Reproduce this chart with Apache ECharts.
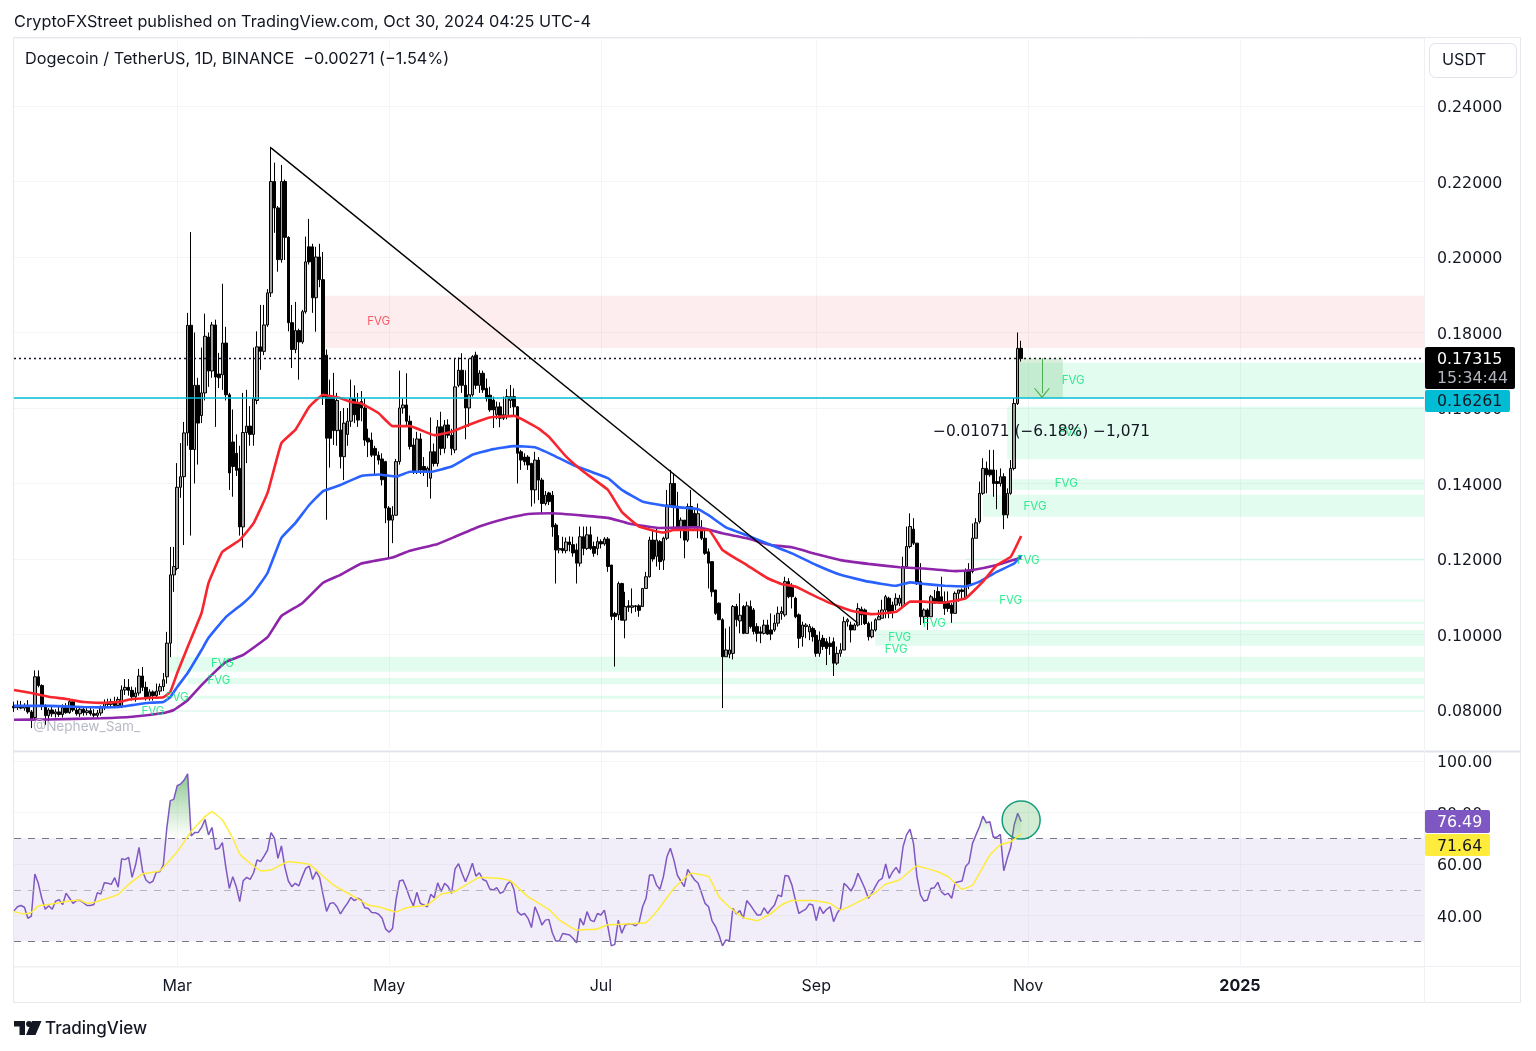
<!DOCTYPE html>
<html>
<head>
<meta charset="utf-8">
<title>Dogecoin / TetherUS</title>
<style>
  html, body { margin: 0; padding: 0; background: #fff; }
  #main { width: 1536px; height: 1051px; }
</style>
<script src="https://cdn.jsdelivr.net/npm/echarts@6/dist/echarts.min.js"></script>
</head>
<body>
<div id="main"></div>
<script>
// Daily candles, Jan 14 2024 to Oct 30 2024
const opens = [
  .0810,.0806,.0812,.0805,.0811,.0795,.0780,.0888,.0865,.0812, .0785,.0800,.0790,.0795,.0788,.0806,.0793,.0822,.0800,.0790,
  .0802,.0793,.0798,.0790,.0786,.0792,.0808,.0820,.0815,.0822, .0812,.0808,.0853,.0860,.0852,.0835,.0845,.0890,.0860,.0835,
  .0848,.0838,.0850,.0862,.0888,.0977,.1158,.1175,.1390,.1418, .1534,.1819,.1490,.1660,.1580,.1640,.1788,.1698,.1820,.1690,
  .1688,.1772,.1635,.1510,.1480,.1440,.1285,.1535,.1552,.1530, .1620,.1762,.1750,.1820,.1905,.2200,.2130,.1993,.2200,.2052,
  .1826,.1755,.1805,.1775,.1855,.2027,.2027,.1892,.2000,.1940, .1740,.1630,.1630,.1540,.1542,.1471,.1530,.1565,.1625,.1612,
  .1617,.1600,.1520,.1515,.1493,.1475,.1465,.1458,.1335,.1303, .1316,.1458,.1600,.1608,.1565,.1502,.1431,.1518,.1445,.1430,
  .1414,.1484,.1453,.1550,.1493,.1555,.1528,.1489,.1660,.1700, .1660,.1600,.1635,.1740,.1660,.1692,.1652,.1634,.1621,.1583,
  .1603,.1582,.1577,.1620,.1630,.1603,.1484,.1470,.1470,.1453, .1383,.1462,.1409,.1347,.1375,.1369,.1290,.1224,.1228,.1222,
  .1245,.1238,.1224,.1189,.1259,.1228,.1264,.1233,.1228,.1246, .1240,.1253,.1184,.1056,.1052,.1135,.1038,.1076,.1072,.1076,
  .1076,.1074,.1122,.1153,.1250,.1207,.1246,.1197,.1255,.1343, .1400,.1339,.1281,.1303,.1250,.1339,.1321,.1286,.1281,.1255,
  .1219,.1193,.1118,.1083,.1039,.0941,.0948,.0950,.1074,.1036, .1074,.1003,.1074,.1065,.1021,.1007,.1003,.1025,.1012,.1012,
  .1030,.1056,.1052,.1140,.1127,.1096,.1052,.0994,.1021,.1007, .1016,.0998,.0950,.0990,.0981,.0977,.0981,.0924,.0950,.0959,
  .1034,.1025,.1012,.1025,.1067,.1065,.1029,.0994,.1012,.1039, .1043,.1065,.1096,.1078,.1078,.1083,.1074,.1180,.1233,.1279,
  .1242,.1140,.1047,.1065,.1047,.1096,.1114,.1100,.1087,.1083, .1078,.1056,.1109,.1118,.1096,.1171,.1167,.1255,.1299,.1374,
  .1440,.1436,.1436,.1405,.1400,.1418,.1317,.1374,.1440,.1612,.1758
];
const closes = [
  .0806,.0812,.0805,.0811,.0795,.0772,.0888,.0865,.0812,.0785, .0800,.0790,.0795,.0788,.0806,.0793,.0822,.0800,.0790,.0802,
  .0793,.0798,.0790,.0786,.0792,.0808,.0820,.0815,.0822,.0812, .0828,.0853,.0860,.0852,.0835,.0845,.0890,.0860,.0835,.0848,
  .0838,.0850,.0862,.0880,.0977,.1158,.1180,.1390,.1418,.1534, .1819,.1490,.1660,.1560,.1640,.1790,.1698,.1820,.1682,.1680,
  .1772,.1635,.1428,.1445,.1435,.1285,.1535,.1552,.1530,.1625, .1762,.1750,.1820,.1905,.2200,.2130,.1993,.2200,.2052,.1826,
  .1755,.1805,.1775,.1855,.1987,.1987,.1892,.2000,.1940,.1630, .1520,.1520,.1540,.1620,.1471,.1560,.1565,.1625,.1582,.1568,
  .1600,.1515,.1510,.1475,.1475,.1462,.1410,.1335,.1303,.1316, .1458,.1600,.1608,.1565,.1498,.1431,.1518,.1436,.1435,.1440,
  .1484,.1453,.1550,.1493,.1555,.1528,.1493,.1656,.1700,.1660, .1600,.1635,.1736,.1660,.1692,.1648,.1625,.1595,.1595,.1603,
  .1573,.1573,.1630,.1630,.1603,.1480,.1462,.1458,.1449,.1383, .1462,.1409,.1347,.1369,.1352,.1285,.1224,.1228,.1222,.1245,
  .1238,.1216,.1189,.1259,.1228,.1264,.1228,.1215,.1246,.1240, .1253,.1180,.1048,.1048,.1135,.1038,.1074,.1072,.1076,.1074,
  .1064,.1122,.1153,.1250,.1200,.1250,.1193,.1255,.1343,.1400, .1339,.1281,.1303,.1250,.1339,.1286,.1286,.1320,.1255,.1215,
  .1189,.1113,.1056,.1039,.0941,.0959,.0959,.1074,.1039,.1051, .1003,.1076,.1021,.1008,.1003,.1003,.1025,.1001,.1001,.1030,
  .1056,.1061,.1140,.1100,.1100,.1047,.0990,.1025,.1025,.1021, .0994,.0950,.0985,.0968,.0963,.0968,.0924,.0950,.0959,.1034,
  .1039,.1012,.1025,.1069,.1052,.1029,.0994,.1012,.1039,.1047, .1065,.1100,.1056,.1060,.1096,.1096,.1180,.1233,.1286,.1242,
  .1136,.1047,.1065,.1047,.1100,.1083,.1087,.1087,.1069,.1069, .1056,.1109,.1118,.1114,.1167,.1130,.1255,.1296,.1374,.1440,
  .1423,.1423,.1400,.1400,.1418,.1317,.1374,.1440,.1612,.1758,.1731
];
const highs = [
  .0822,.0825,.0824,.0818,.0826,.0800,.0905,.0905,.0868,.0815, .0805,.0812,.0802,.0808,.0815,.0818,.0830,.0828,.0810,.0808,
  .0808,.0805,.0806,.0802,.0800,.0812,.0828,.0830,.0830,.0835, .0835,.0865,.0882,.0882,.0862,.0860,.0909,.0914,.0875,.0855,
  .0852,.0870,.0870,.0898,.1007,.1232,.1232,.1454,.1507,.1563, .1852,.2066,.1800,.1680,.1760,.1850,.1800,.1828,.1834,.1746,
  .1929,.1815,.1640,.1596,.1530,.1500,.1640,.1648,.1605,.1760, .1803,.1873,.1873,.1915,.2292,.2250,.2135,.2244,.2205,.2055,
  .1873,.1881,.1810,.1860,.2054,.2101,.2035,.2027,.2035,.2013, .1755,.1675,.1693,.1640,.1592,.1600,.1600,.1675,.1660,.1640,
  .1645,.1625,.1545,.1535,.1500,.1485,.1480,.1460,.1340,.1340, .1465,.1699,.1625,.1692,.1580,.1520,.1537,.1533,.1470,.1445,
  .1575,.1506,.1568,.1590,.1568,.1570,.1545,.1732,.1734,.1745, .1700,.1731,.1740,.1749,.1700,.1699,.1678,.1656,.1630,.1617,
  .1615,.1630,.1650,.1661,.1652,.1605,.1489,.1480,.1475,.1455, .1484,.1470,.1415,.1380,.1378,.1380,.1295,.1263,.1259,.1257,
  .1260,.1259,.1241,.1286,.1286,.1286,.1286,.1246,.1259,.1252, .1258,.1258,.1184,.1060,.1140,.1137,.1113,.1091,.1122,.1078,
  .1080,.1122,.1166,.1259,.1277,.1280,.1250,.1259,.1383,.1436, .1427,.1378,.1310,.1303,.1347,.1383,.1330,.1347,.1303,.1277,
  .1228,.1193,.1118,.1085,.1043,.1016,.1021,.1078,.1081,.1109, .1078,.1087,.1090,.1070,.1030,.1021,.1039,.1039,.1056,.1052,
  .1074,.1074,.1153,.1149,.1136,.1100,.1056,.1034,.1030,.1028, .1021,.1012,.1008,.0999,.0990,.0994,.0992,.0968,.0977,.1047,
  .1043,.1034,.1030,.1083,.1074,.1069,.1034,.1034,.1043,.1065, .1092,.1105,.1100,.1087,.1109,.1105,.1206,.1286,.1321,.1308,
  .1242,.1189,.1069,.1069,.1105,.1118,.1127,.1153,.1114,.1114, .1083,.1114,.1118,.1122,.1175,.1189,.1294,.1308,.1405,.1467,
  .1458,.1489,.1489,.1436,.1440,.1427,.1387,.1462,.1626,.1800,.1778
];
const lows = [
  .0795,.0800,.0802,.0798,.0790,.0752,.0775,.0860,.0800,.0760, .0770,.0782,.0780,.0782,.0780,.0790,.0790,.0795,.0785,.0782,
  .0785,.0786,.0785,.0780,.0778,.0785,.0800,.0808,.0805,.0810, .0805,.0805,.0840,.0838,.0825,.0822,.0838,.0850,.0825,.0825,
  .0825,.0830,.0840,.0850,.0870,.0940,.1113,.1170,.1362,.1237, .1500,.1262,.1400,.1450,.1560,.1620,.1656,.1680,.1550,.1653,
  .1648,.1620,.1383,.1365,.1420,.1262,.1230,.1454,.1500,.1500, .1610,.1701,.1740,.1815,.1894,.2064,.1961,.1985,.1992,.1803,
  .1706,.1745,.1675,.1770,.1850,.1980,.1852,.1802,.1920,.1608, .1304,.1442,.1502,.1500,.1440,.1409,.1500,.1550,.1560,.1550,
  .1565,.1500,.1470,.1470,.1425,.1450,.1395,.1295,.1202,.1242, .1315,.1450,.1585,.1555,.1490,.1425,.1425,.1425,.1420,.1391,
  .1360,.1445,.1445,.1475,.1480,.1520,.1475,.1480,.1655,.1640, .1517,.1550,.1630,.1650,.1640,.1640,.1617,.1590,.1547,.1570,
  .1549,.1568,.1570,.1600,.1577,.1400,.1436,.1448,.1436,.1339, .1347,.1356,.1321,.1342,.1343,.1259,.1135,.1215,.1215,.1215,
  .1220,.1206,.1135,.1180,.1210,.1224,.1224,.1206,.1210,.1228, .1235,.1166,.1038,.0915,.1038,.1038,.0990,.1060,.1056,.1060,
  .1047,.1074,.1122,.1151,.1193,.1180,.1171,.1171,.1250,.1338, .1277,.1277,.1255,.1202,.1245,.1281,.1277,.1255,.1250,.1211,
  .1122,.1100,.1052,.1039,.0805,.0941,.0937,.0934,.1021,.1003, .1001,.1003,.1016,.1000,.0981,.0977,.1000,.0999,.0985,.1007,
  .1021,.1039,.1047,.1096,.1069,.1043,.0964,.0968,.0990,.0985, .0981,.0941,.0941,.0959,.0919,.0946,.0890,.0919,.0941,.0959,
  .1021,.0979,.1012,.1021,.1025,.1025,.0984,.0990,.1008,.1039, .1043,.1043,.1043,.1043,.1065,.1075,.1074,.1180,.1228,.1237,
  .1131,.1025,.1030,.1012,.1047,.1083,.1083,.1083,.1052,.1060, .1031,.1056,.1087,.1091,.1096,.1120,.1162,.1255,.1294,.1370,
  .1374,.1418,.1365,.1332,.1392,.1279,.1308,.1370,.1435,.1608,.1723
];

// moving averages, read at the day indexes listed with them
const redDays = [0,5,10,15,20,25,30,34,39,43,45,47,50,54,56,60,65,69,73,77,81,85,89,94,97,100,105,109,114,121,126,132,137,144,151,154,159,164,171,175,180,187,190,200,204,211,217,221,225,229,235,241,247,254,258,262,267,274,279,283,287,290];
const redValues = [.0853,.0845,.0835,.0829,.0821,.0819,.0821,.0829,.0832,.0834,.0848,.0898,.0967,.1057,.1136,.1219,.1250,.1295,.1375,.1507,.1542,.1603,.1635,.1626,.1616,.1612,.1586,.1552,.1552,.1528,.1537,.1559,.1575,.1579,.1546,.1524,.1471,.1431,.1383,.1325,.1286,.1270,.1277,.1277,.1224,.1184,.1149,.1134,.1127,.1109,.1083,.1063,.1054,.1060,.1087,.1087,.1084,.1096,.1140,.1184,.1206,.1261];
const blueDays = [0,10,20,25,30,34,39,43,45,47,50,54,56,61,66,69,73,77,81,85,89,94,100,105,110,114,120,126,132,138,144,150,155,161,171,175,181,188,197,200,205,211,218,224,231,238,246,254,258,262,268,274,278,283,288,290];
const blueValues = [.0811,.0811,.0808,.0807,.0808,.0813,.0819,.0821,.0834,.0861,.0898,.0959,.0991,.1046,.1083,.1110,.1163,.1256,.1295,.1343,.1380,.1396,.1420,.1424,.1418,.1431,.1431,.1445,.1476,.1491,.1499,.1496,.1476,.1449,.1414,.1383,.1352,.1340,.1332,.1316,.1284,.1263,.1237,.1215,.1184,.1158,.1140,.1129,.1138,.1134,.1129,.1127,.1140,.1166,.1188,.1210];
const purpleDays = [0,10,25,34,43,46,50,54,61,66,73,77,83,89,94,100,109,114,122,127,134,142,148,155,164,171,177,186,197,204,211,218,224,231,238,246,255,262,271,276,283,290];
const purpleValues = [.0774,.0775,.0778,.0782,.0792,.0800,.0826,.0866,.0927,.0946,.0993,.1049,.1083,.1137,.1158,.1188,.1204,.1222,.1240,.1259,.1286,.1308,.1319,.1321,.1315,.1309,.1294,.1282,.1284,.1268,.1255,.1237,.1231,.1213,.1197,.1187,.1178,.1175,.1168,.1171,.1184,.1204];

// RSI, one value per candle
const rsiValues = [
  41.8,43.4,43.9,43.2,38.9,39.8,56.1,52.5,46.7,42.4, 43.8,42.4,45.6,46.1,44.2,48.7,46.7,44.7,45.8,45.9,
  45.0,43.9,43.9,44.3,48.9,48.3,52.7,52.5,52.1,54.7, 51.0,62.0,61.7,62.6,54.8,59.6,66.5,57.4,53.8,52.6,
  53.3,56.9,57.0,59.6,73.9,84.6,85.1,90.4,91.1,92.6, 95.0,70.9,72.2,72.2,74.2,77.3,71.3,74.2,65.7,66.1,
  68.3,58.7,50.5,55.1,51.2,45.4,53.5,54.8,54.0,56.6, 61.6,60.9,63.1,65.4,72.2,70.0,62.2,67.0,58.7,53.4,
  51.2,52.5,51.5,55.1,58.3,59.2,54.0,57.0,54.8,48.0, 41.6,44.7,45.0,43.4,40.6,42.8,44.7,47.0,45.8,46.7,
  46.0,43.0,42.7,41.2,41.1,40.5,38.9,34.8,33.5,35.0, 46.0,53.4,53.8,50.5,46.7,43.7,49.0,44.7,44.1,43.4,
  48.2,46.9,52.7,49.3,52.5,51.2,48.6,58.1,60.1,56.4, 53.1,56.4,60.3,55.3,56.6,54.0,53.4,50.3,49.9,50.8,
  48.6,49.3,52.2,53.4,49.9,41.5,40.2,40.8,38.9,35.3, 43.4,40.2,36.3,38.2,38.5,33.3,30.1,30.1,33.0,32.7,
  32.4,31.1,29.4,38.9,36.3,41.5,38.2,37.6,40.8,40.2, 42.1,35.7,28.2,28.8,38.2,33.1,36.3,36.7,36.7,36.0,
  37.3,43.4,46.7,55.7,55.7,51.8,50.2,55.1,62.8,66.1, 61.6,55.7,53.4,51.2,57.9,55.7,53.8,52.5,48.6,44.7,
  43.4,37.9,35.7,32.4,28.2,30.5,30.2,42.8,40.6,41.9, 38.9,45.8,44.1,42.1,40.2,40.2,43.0,40.8,42.5,44.1,
  48.0,47.3,55.5,55.3,51.8,46.0,40.8,41.7,42.5,44.5, 44.1,38.0,43.4,40.8,42.4,43.4,37.6,40.8,42.8,52.5,
  51.2,49.5,52.1,56.4,53.5,50.5,46.7,48.6,51.2,53.5, 54.4,60.0,54.4,57.0,58.7,56.4,66.7,71.3,73.5,68.0,
  55.1,48.0,45.6,46.0,50.5,50.8,52.9,49.3,48.0,48.6, 46.7,52.7,53.1,53.4,59.0,60.5,68.0,71.3,74.5,78.6,
  76.0,76.4,70.4,70.4,71.5,57.4,62.2,66.5,75.2,79.7,76.49
];
const rsiMaDays = [0,3,5,7,10,15,19,21,23,30,33,37,42,47,51,55,57,60,63,65,68,71,74,79,85,87,92,97,102,105,110,113,119,123,127,134,140,143,148,154,157,162,168,171,176,182,185,190,195,200,203,206,210,214,218,221,224,230,235,238,242,248,251,255,260,266,269,273,276,281,284,287,290];
const rsiMaValues = [41.5,40.6,41.2,43.7,44.3,45.4,46.0,44.7,45.1,48.2,52.1,56.1,57.3,64.8,72.6,78.4,80.3,77.1,70.0,63.9,60.3,57.4,57.7,60.9,59.9,57.7,51.8,48.0,44.1,43.4,41.4,43.0,44.1,48.3,49.3,54.8,54.4,53.4,47.3,42.4,38.3,34.4,34.8,36.4,36.7,37.3,41.5,50.5,56.4,55.1,47.3,43.2,39.2,38.0,40.8,44.1,45.8,45.8,44.7,42.1,44.5,48.9,52.2,53.8,59.2,57.0,55.1,50.2,51.8,63.5,67.4,68.7,71.64];

// axis ticks
const tickDates = ['2024-03-01','2024-05-01','2024-07-01','2024-09-01','2024-11-01','2025-01-01'];
const tickLabels = ['Mar','May','Jul','Sep','Nov','2025'];

// fair value gaps: first day, top price, bottom price
const fvgRedStart = 89, fvgRedTop = .1897, fvgRedBottom = .1759;
const fvgStarts  = [289,  286,  286,  279,  274,  272,  262,  248,  44,   50,   45,   42];
const fvgTops    = [.1720,.1603,.1411,.1370,.1201,.1093,.1034,.1012,.0941,.0885,.0838,.0798];
const fvgBottoms = [.1629,.1464,.1383,.1312,.1196,.1087,.1028,.0970,.0901,.0868,.0830,.0795];
// FVG text labels
const fvgLabelDays   = [60,59,47,40,255,254,265,287,292,294,303,304,305];
const fvgLabelPrices = [.0922,.0877,.0834,.0795,.0993,.0959,.1030,.1091,.1197,.1340,.1399,.1536,.1674];
const fvgRedLabelDay = 105, fvgRedLabelPrice = .1828;

const lastPrice = .17315, linePrice = .16261;
const trendDays = [74,243], trendPrices = [.2289,.1030];
const measureDays = [289,302], measureArrowDay = 296, measureArrowEnd = .1639;

const firstDay = Date.UTC(2024, 0, 14);
const lastIndex = 406;
const days = [];
for (let i = 0; i <= lastIndex; i++) {
  days.push(new Date(firstDay + i * 86400000).toISOString().slice(0, 10));
}

const font = 'Inter';
const numFont = '"DejaVu Sans"';
const ink = '#131722';
const gridColor = '#f5f5f7';
const frameColor = '#e6e8ee';

const pairs = (xs, ys) => xs.map((x, i) => [x, ys[i]]);
const isTick = (index, value) => tickDates.includes(value);

const chart = echarts.init(document.getElementById('main'), null, { renderer: 'canvas' });

const maSeries = (name, xs, ys, color) => ({
  name, type: 'line', data: pairs(xs, ys), xAxisIndex: 0, yAxisIndex: 0, z: 4,
  showSymbol: false, symbol: 'none', smooth: 0.1,
  lineStyle: { color, width: 2.6 }
});

const label = (text, x, y, opts) => ({
  type: 'text', x, y, z: 200, silent: true,
  style: Object.assign({ text, font: '16.3px ' + font, fill: ink, textVerticalAlign: 'middle' }, opts || {})
});
const numLabel = (text, x, y, fill, size) => label(text, x, y, { font: (size || 15.8) + 'px ' + numFont, fill: fill || ink });
const rect = (x, y, w, h, fill, r) => ({
  type: 'rect', z: 190, silent: true, shape: { x, y, width: w, height: h, r: r || 0 }, style: { fill }
});
const rule = (x1, y1, x2, y2, color, w) => ({
  type: 'line', z: 0, silent: true, shape: { x1, y1, x2, y2 }, style: { stroke: color, lineWidth: w || 1 }
});
// rich style nudges the y axis numbers down onto their grid lines
const axisNumber = { n: { fontSize: 15.8, fontFamily: numFont, color: ink, padding: [4, 0, 0, 0] } };

const option = {
  animation: false,
  backgroundColor: '#ffffff',
  textStyle: { fontFamily: font },
  grid: [
    { left: 14, width: 1410, top: 38, height: 709.75 },
    { left: 14, width: 1410, top: 752, height: 215 }
  ],
  xAxis: [0, 1].map(g => ({
    type: 'category', gridIndex: g, data: days, boundaryGap: false,
    axisLine: { show: false }, axisTick: { show: false },
    splitLine: { show: true, interval: isTick, lineStyle: { color: gridColor, width: 1 } },
    axisLabel: {
      show: g === 1, interval: isTick, margin: 11, color: ink, fontSize: 16, fontFamily: font,
      formatter: v => {
        const t = tickLabels[tickDates.indexOf(v)];
        return t === '2025' ? '{year|2025}' : t;
      },
      rich: { year: { fontWeight: 'bold', fontSize: 16, fontFamily: font, color: ink, letterSpacing: 1 } }
    }
  })),
  yAxis: [
    {
      type: 'value', gridIndex: 0, position: 'right', min: .07, max: .25801, interval: .01,
      axisLine: { show: false }, axisTick: { show: false },
      splitLine: { show: true, lineStyle: { color: ['transparent', gridColor] } },
      axisLabel: {
        margin: 13, rich: axisNumber,
        formatter: v => Math.abs(v * 50 - Math.round(v * 50)) < 1e-6 ? '{n|' + v.toFixed(5) + '}' : ''
      }
    },
    {
      type: 'value', gridIndex: 1, position: 'right', min: 20, max: 103.5, interval: 20,
      axisLine: { show: false }, axisTick: { show: false },
      splitLine: { show: true, lineStyle: { color: gridColor } },
      axisLabel: {
        margin: 13, rich: axisNumber,
        formatter: v => (v === 20 || v % 20 !== 0) ? '' : '{n|' + v.toFixed(2) + '}'
      }
    }
  ],
  series: [
    // zones and the two price lines sit under the candles
    {
      type: 'line', data: [], xAxisIndex: 0, yAxisIndex: 0, z: 1, silent: true,
      markArea: {
        silent: true,
        itemStyle: { color: 'rgba(0,230,118,0.11)' },
        data: fvgStarts.map((s, i) => [{ coord: [s, fvgTops[i]] }, { coord: [lastIndex, fvgBottoms[i]] }])
          .concat([[
            { coord: [fvgRedStart, fvgRedTop], itemStyle: { color: 'rgba(242,54,69,0.09)' } },
            { coord: [lastIndex, fvgRedBottom] }
          ]])
      },
      markLine: {
        silent: true, symbol: 'none', label: { show: false }, precision: 5,
        data: [
          { yAxis: lastPrice, lineStyle: { color: ink, type: [2, 3], width: 1.4 } },
          { yAxis: linePrice, lineStyle: { color: '#00bcd4', type: 'solid', width: 1.5 } }
        ]
      }
    },
    {
      name: 'DOGEUSDT', type: 'candlestick', xAxisIndex: 0, yAxisIndex: 0, z: 3,
      barWidth: 3,
      itemStyle: { color: '#a0a0a0', color0: '#000000', borderColor: '#000000', borderColor0: '#000000', borderWidth: 1 },
      data: opens.map((o, i) => [o, closes[i], lows[i], highs[i]])
    },
    maSeries('EMA 200', purpleDays, purpleValues, '#8e24aa'),
    maSeries('EMA 100', blueDays, blueValues, '#2962ff'),
    maSeries('EMA 50', redDays, redValues, '#f7252d'),
    {
      name: 'Trend', type: 'line', xAxisIndex: 0, yAxisIndex: 0, z: 5, symbol: 'none',
      data: pairs(trendDays, trendPrices), lineStyle: { color: '#000000', width: 1.4 }
    },
    // measure box with its arrow
    {
      type: 'line', data: [], xAxisIndex: 0, yAxisIndex: 0, z: 5, silent: true,
      markArea: {
        silent: true, itemStyle: { color: 'rgba(76,175,80,0.2)' },
        data: [[{ coord: [measureDays[0], lastPrice] }, { coord: [measureDays[1], linePrice] }]]
      },
      markLine: {
        silent: true, label: { show: false }, precision: 5,
        symbol: ['none', 'path://M0 10L5 0L10 10L9.2 10L5 2L0.8 10Z'], symbolSize: [16, 10],
        lineStyle: { color: '#4caf50', type: 'solid', width: 1 },
        data: [[{ coord: [measureArrowDay, lastPrice] }, { coord: [measureArrowDay, measureArrowEnd] }]]
      }
    },
    {
      type: 'scatter', xAxisIndex: 0, yAxisIndex: 0, z: 6, symbolSize: 1, silent: true,
      itemStyle: { color: 'transparent' },
      data: pairs(fvgLabelDays, fvgLabelPrices),
      label: { show: true, position: 'inside', formatter: 'FVG', color: '#00e676', fontSize: 11.5, fontFamily: font }
    },
    {
      type: 'scatter', xAxisIndex: 0, yAxisIndex: 0, z: 6, symbolSize: 1, silent: true,
      itemStyle: { color: 'transparent' },
      data: [[fvgRedLabelDay, fvgRedLabelPrice]],
      label: { show: true, position: 'inside', formatter: 'FVG', color: '#f23645', fontSize: 11.5, fontFamily: font }
    },
    // RSI pane
    {
      type: 'line', data: [], xAxisIndex: 1, yAxisIndex: 1, z: 1, silent: true,
      markArea: {
        silent: true, itemStyle: { color: 'rgba(126,87,194,0.1)' },
        data: [[{ coord: [0, 70] }, { coord: [lastIndex, 30] }]]
      },
      markLine: {
        silent: true, symbol: 'none', label: { show: false },
        data: [
          { yAxis: 70, lineStyle: { color: '#787b86', type: [7, 7], width: 1.2 } },
          { yAxis: 50, lineStyle: { color: '#b2b5be', type: [7, 7], width: 1.2 } },
          { yAxis: 30, lineStyle: { color: '#787b86', type: [7, 7], width: 1.2 } }
        ]
      }
    },
    {
      name: 'Overbought', type: 'line', xAxisIndex: 1, yAxisIndex: 1, z: 2, symbol: 'none', silent: true,
      data: rsiValues.map((v, i) => [i, v > 70 ? v : null]),
      lineStyle: { width: 0 },
      areaStyle: {
        origin: 70,
        color: new echarts.graphic.LinearGradient(0, 0, 0, 1, [
          { offset: 0, color: 'rgba(60,160,70,0.85)' },
          { offset: 1, color: 'rgba(76,175,80,0)' }
        ])
      }
    },
    {
      name: 'RSI', type: 'line', xAxisIndex: 1, yAxisIndex: 1, z: 4, symbol: 'none',
      data: rsiValues.map((v, i) => [i, v]), lineStyle: { color: '#7e57c2', width: 1.5 },
      markPoint: {
        silent: true, symbol: 'circle', symbolSize: 38, label: { show: false },
        itemStyle: { color: 'rgba(76,175,80,0.25)', borderColor: '#149c7a', borderWidth: 1.5 },
        data: [{ coord: [290, 77.1] }]
      }
    },
    {
      name: 'RSI MA', type: 'line', xAxisIndex: 1, yAxisIndex: 1, z: 5, symbol: 'none', smooth: 0.1,
      data: pairs(rsiMaDays, rsiMaValues), lineStyle: { color: '#ffeb3b', width: 1.5 }
    }
  ],
  graphic: [
    // panel frame
    { type: 'rect', z: 0, silent: true, shape: { x: 13.5, y: 37.5, width: 1507, height: 965 }, style: { fill: 'none', stroke: frameColor, lineWidth: 1 } },
    rule(14, 751.5, 1521, 751.5, '#e0e3eb', 2),
    rule(14, 966.5, 1521, 966.5, '#f0f1f5', 1),
    rule(1424.5, 38, 1424.5, 1003, '#f0f1f5', 1),

    label('CryptoFXStreet published on TradingView.com, Oct 30, 2024 04:25 UTC-4', 14, 22),
    label('Dogecoin / TetherUS, 1D, BINANCE  \u22120.00271 (\u22121.54%)', 25, 59),
    { type: 'rect', z: 190, silent: true, shape: { x: 1429.5, y: 43.5, width: 87, height: 34, r: 6 }, style: { fill: '#fff', stroke: '#e0e3eb', lineWidth: 1 } },
    label('USDT', 1442, 60),
    label('@Nephew_Sam_', 33, 727, { font: '13.6px ' + font, fill: '#b8bbc4' }),
    numLabel('\u22120.01071 (\u22126.18%) \u22121,071', 933, 432, ink, 15.4),

    // price tags
    rect(1425, 347, 90, 42, '#000000', 2),
    numLabel('0.17315', 1437, 360, '#ffffff'),
    numLabel('15:34:44', 1437, 379, '#b2b5be'),
    rect(1425, 390, 85, 22, '#00bcd4', 2),
    numLabel('0.16261', 1437, 402),
    rect(1425, 810, 65, 23, '#7e57c2', 2),
    numLabel('76.49', 1437, 823, '#ffffff'),
    rect(1425, 834, 65, 22, '#ffeb3b', 2),
    numLabel('71.64', 1437, 847),

    // footer logo and wordmark
    { type: 'polygon', z: 200, silent: true, shape: { points: [[14,1021],[25,1021],[25,1035],[19.5,1035],[19.5,1026.5],[14,1026.5]] }, style: { fill: ink } },
    { type: 'polygon', z: 200, silent: true, shape: { points: [[32,1021],[41.5,1021],[35.5,1035],[26,1035]] }, style: { fill: ink } },
    { type: 'circle', z: 200, silent: true, shape: { cx: 29, cy: 1024, r: 2.9 }, style: { fill: ink } },
    label('TradingView', 45, 1029, { font: '500 17px ' + font })
  ]
};

chart.setOption(option);
</script>
</body>
</html>
